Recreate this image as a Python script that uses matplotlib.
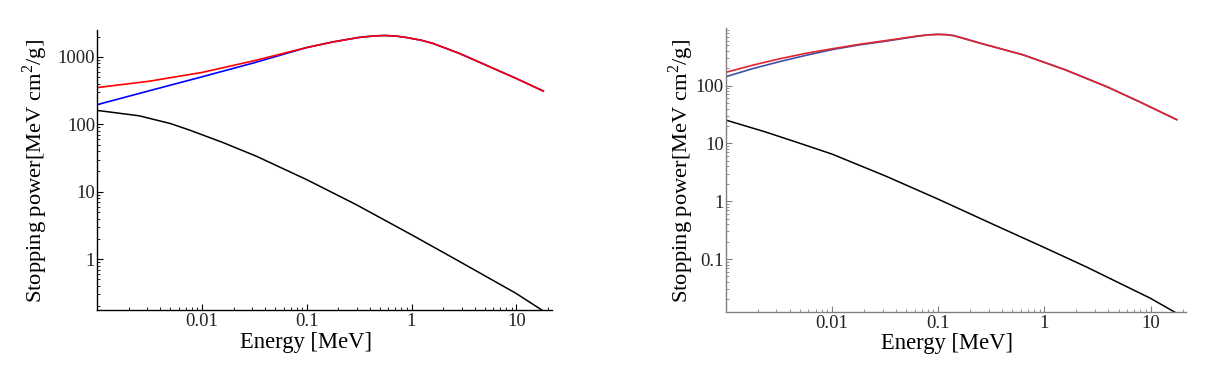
import matplotlib
matplotlib.use("Agg")
import matplotlib.pyplot as plt
from matplotlib.ticker import LogLocator, NullFormatter

# ---------------- data ----------------
# Left panel
left_black_E = [0.001, 0.00251, 0.00501, 0.00764, 0.01585, 0.0331, 0.1, 0.295, 1.0, 2.65, 10.0, 17.5]
left_black_S = [161, 134, 102.6, 82.0, 53.7, 33.6, 15.1, 6.46, 2.30, 0.989, 0.309, 0.176]

left_E = [0.001, 0.00316, 0.01, 0.0316, 0.1, 0.178, 0.316, 0.447, 0.562, 0.708, 0.895,
          1.259, 1.607, 2.89, 5.2, 10.0, 18.1]
left_red_S = [351, 437, 589, 881, 1380, 1671, 1950, 2056, 2080, 2042, 1945,
              1758, 1585, 1122, 750, 479, 312]
left_blue_S = [196, 316, 507, 822, 1380, 1671, 1950, 2056, 2080, 2042, 1945,
               1758, 1585, 1122, 750, 479, 312]

# Right panel
right_black_E = [0.001, 0.00234, 0.00501, 0.01, 0.0316, 0.1, 0.316, 1.0, 2.51, 10.0, 17.4]
right_black_S = [25.3, 15.85, 10.0, 6.53, 2.75, 1.084, 0.412, 0.158, 0.0724, 0.0209, 0.0117]

right_E = [0.001, 0.00178, 0.00316, 0.00562, 0.01, 0.0178, 0.0316, 0.0631, 0.0794, 0.1,
           0.1175, 0.141, 0.251, 0.631, 1.585, 3.98, 7.94, 17.6]
right_red_S = [169, 224, 288, 359, 431.5, 513, 596, 716, 750, 767,
               759, 728, 537, 339, 186, 93.3, 51.9, 25.7]
right_blue_S = [142, 195, 257, 331, 417, 501, 582, 708, 750, 767,
                759, 728, 537, 339, 186, 93.3, 51.9, 25.7]

x_ticks = [0.01, 0.1, 1, 10]
x_ticklabels = ["0.01", "0.1", "1", "10"]
left_y_ticks = [1, 10, 100, 1000]
left_y_ticklabels = ["1", "10", "100", "1000"]
right_y_ticks = [0.1, 1, 10, 100]
right_y_ticklabels = ["0.1", "1", "10", "100"]

xlabel = "Energy [MeV]"
ylabel = "Stopping power[MeV cm$^2$/g]"

# ---------------- figure ----------------
plt.rcParams['font.family'] = ['Liberation Serif', 'DejaVu Serif']
plt.rcParams['mathtext.fontset'] = 'custom'
plt.rcParams['mathtext.rm'] = 'Liberation Serif'

fig = plt.figure(figsize=(12.11, 3.72), dpi=100)
axL = fig.add_axes([0.0803, 0.1667, 0.4558 - 0.0803, 0.919 - 0.1667])
axR = fig.add_axes([0.5993, 0.1605, 0.9791 - 0.5993, 0.924 - 0.1605])


def style(ax, axcolor, yticks, yticklabels, xlim, ylim):
    ax.set_xscale('log')
    ax.set_yscale('log')
    ax.set_xlim(*xlim)
    ax.set_ylim(*ylim)
    for s in ['top', 'right']:
        ax.spines[s].set_visible(False)
    for s in ['left', 'bottom']:
        ax.spines[s].set_color(axcolor)
        ax.spines[s].set_linewidth(1.0)
    ax.set_xticks(x_ticks)
    ax.set_xticklabels(x_ticklabels)
    ax.set_yticks(yticks)
    ax.set_yticklabels(yticklabels)
    ax.xaxis.set_minor_locator(LogLocator(base=10, subs=range(2, 10), numticks=20))
    ax.yaxis.set_minor_locator(LogLocator(base=10, subs=range(2, 10), numticks=20))
    ax.xaxis.set_minor_formatter(NullFormatter())
    ax.yaxis.set_minor_formatter(NullFormatter())
    ax.tick_params(which='major', direction='in', length=4.5, width=0.8, color=axcolor,
                   labelsize=13.5, labelcolor='#222222')
    ax.tick_params(axis='y', which='major', pad=1.5)
    ax.tick_params(axis='x', which='major', pad=2)
    ax.tick_params(which='minor', direction='in', length=2.2, width=0.6, color=axcolor)
    ax.set_xlabel(xlabel, fontsize=16.3)
    ax.set_ylabel(ylabel, fontsize=16.2)
    ax.patch.set_visible(False)


# Left panel
axL.plot(left_black_E, left_black_S, color='black', lw=1.1)
axL.plot(left_E, left_blue_S, color='#0000ff', lw=1.2)
axL.plot(left_E, left_red_S, color='#ff0000', lw=1.2)
style(axL, 'black', left_y_ticks, left_y_ticklabels, (0.001, 21.9), (0.176, 2500))
axL.xaxis.set_label_coords(0.459, -0.077)
axL.yaxis.set_label_coords(-0.103, 0.496)

# Right panel
axR.plot(right_black_E, right_black_S, color='black', lw=1.1)
axR.plot(right_E, right_blue_S, color='#3f51a6', lw=1.2)
axR.plot(right_E, right_red_S, color='#e3232e', lw=1.2)
style(axR, '#808080', right_y_ticks, right_y_ticklabels, (0.001, 21.4), (0.012, 977))
axR.xaxis.set_label_coords(0.481, -0.074)
axR.yaxis.set_label_coords(-0.065, 0.4975)

fig.savefig("out.png", dpi=100)
